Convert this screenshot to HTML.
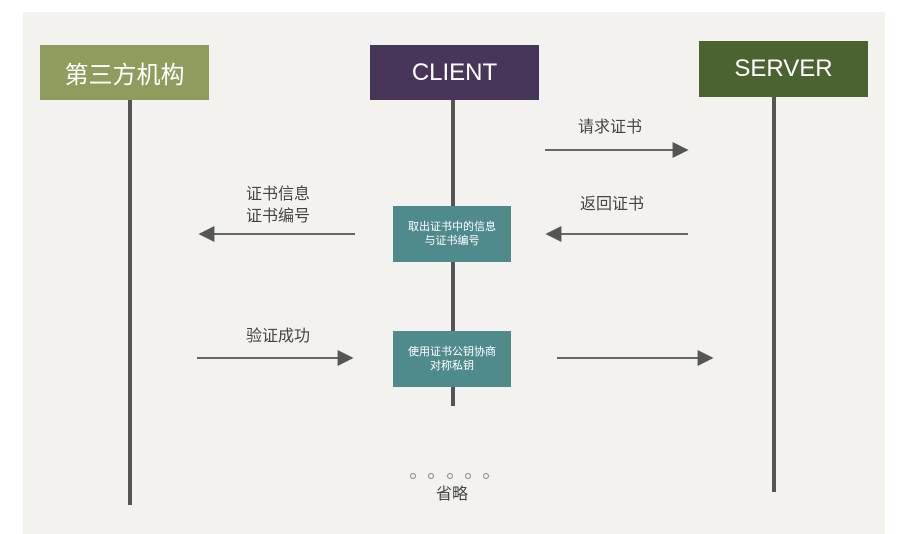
<!DOCTYPE html>
<html><head><meta charset="utf-8"><style>
body{margin:0;width:899px;height:534px;background:#fff;position:relative;overflow:hidden;font-family:"Liberation Sans","Noto Sans CJK SC",sans-serif}
.card{position:absolute;left:23px;top:12px;width:862px;height:522px;background:#f3f2ef}
.b{position:absolute;color:#fff;display:flex;align-items:center;justify-content:center}
.t{position:absolute;color:#444;font-size:16px;text-align:center;line-height:22px}
</style></head><body>
<div class="card"></div>
<svg style="position:absolute;left:0;top:0" width="899" height="534">
<defs><marker id="a" markerWidth="8" markerHeight="8" refX="7" refY="4" orient="auto" markerUnits="userSpaceOnUse"><path d="M0,0 L8,4 L0,8 z" fill="#555"/></marker>
<marker id="h" viewBox="0 0 10 10" refX="9" refY="5" markerWidth="18" markerHeight="16" orient="auto" markerUnits="userSpaceOnUse"><path d="M0,0 L10,5 L0,10 z" fill="#555"/></marker></defs>
<g stroke="#555" stroke-width="4">
<line x1="130" y1="100" x2="130" y2="505"/>
<line x1="453" y1="100" x2="453" y2="406"/>
<line x1="774" y1="88" x2="774" y2="492"/>
</g>
<g stroke="#666" stroke-width="2" marker-end="url(#h)">
<line x1="545" y1="150" x2="687" y2="150"/>
<line x1="688" y1="234" x2="547" y2="234"/>
<line x1="355" y1="234" x2="200" y2="234"/>
<line x1="197" y1="358" x2="352" y2="358"/>
<line x1="557" y1="358" x2="712" y2="358"/>
</g>
<g fill="none" stroke="#999" stroke-width="1.2">
<circle cx="413" cy="476" r="2.5"/><circle cx="431" cy="476" r="2.5"/><circle cx="450" cy="476" r="2.5"/><circle cx="468" cy="476" r="2.5"/><circle cx="486" cy="476" r="2.5"/>
</g>
</svg>
<div class="b" style="left:40px;top:45px;width:169px;height:55px;background:#8e9c5e;font-size:24px">第三方机构</div>
<div class="b" style="left:370px;top:45px;width:169px;height:55px;background:#47365a;font-size:24px">CLIENT</div>
<div class="b" style="left:699px;top:41px;width:169px;height:56px;background:#4a6330;font-size:24px">SERVER</div>
<div class="b" style="left:393px;top:206px;width:118px;height:56px;background:#4f8a8d;font-size:11px;line-height:14px;text-align:center">取出证书中的信息<br>与证书编号</div>
<div class="b" style="left:393px;top:331px;width:118px;height:56px;background:#4f8a8d;font-size:11px;line-height:14px;text-align:center">使用证书公钥协商<br>对称私钥</div>
<div class="t" style="left:570px;top:117px;width:80px">请求证书</div>
<div class="t" style="left:572px;top:194px;width:80px">返回证书</div>
<div class="t" style="left:238px;top:184px;width:80px">证书信息<br>证书编号</div>
<div class="t" style="left:238px;top:326px;width:80px">验证成功</div>
<div class="t" style="left:412px;top:484px;width:80px">省略</div>
</body></html>
